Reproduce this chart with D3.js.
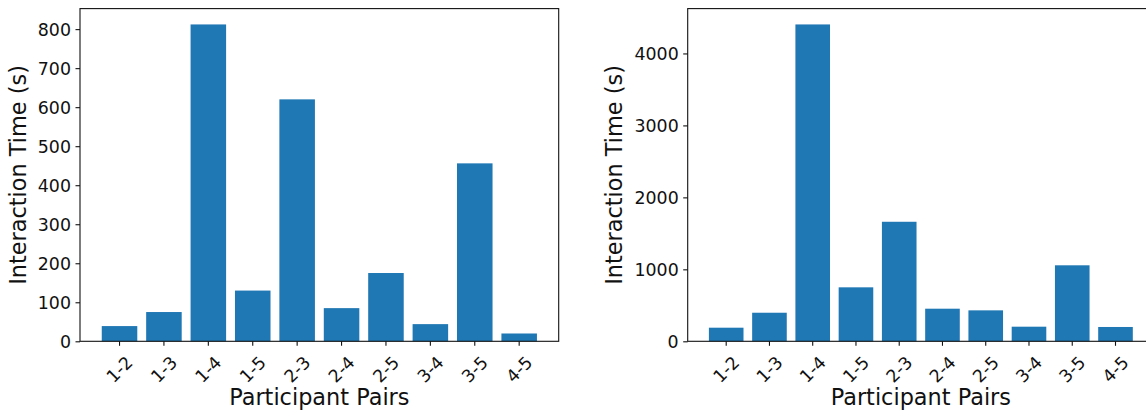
<!DOCTYPE html>
<html>
<head>
<meta charset="utf-8">
<script src="https://cdn.jsdelivr.net/npm/d3@7"></script>
<style>
  html, body { margin: 0; padding: 0; background: #fff; }
  svg { display: block; font-family: "DejaVu Sans", sans-serif; }
</style>
</head>
<body>
<svg id="chart" width="1146" height="414"></svg>
<script>
const categories = ["1-2", "1-3", "1-4", "1-5", "2-3", "2-4", "2-5", "3-4", "3-5", "4-5"];
const leftValues = [39, 75, 812, 130, 620, 85, 175, 44, 456, 20];
const rightValues = [189, 397, 4403, 750, 1661, 453, 430, 203, 1056, 199];
const leftTicks = [0, 100, 200, 300, 400, 500, 600, 700, 800];
const rightTicks = [0, 1000, 2000, 3000, 4000];
const xLabel = "Participant Pairs";
const yLabel = "Interaction Time (s)";

const svg = d3.select("#chart");
const barColor = "#1f77b4";
const ink = "#111";

function panel(values, ticks, box, yLabelX) {
  const g = svg.append("g");
  const x = d3.scaleBand().domain(categories)
    .range([box.x0, box.x1]).paddingInner(0.2).paddingOuter(0.49);
  const y = d3.scaleLinear().domain([0, d3.max(values) * 1.05])
    .range([box.y1, box.y0]);

  g.selectAll("rect.bar").data(values).join("rect")
    .attr("class", "bar")
    .attr("x", (d, i) => x(categories[i]))
    .attr("width", x.bandwidth())
    .attr("y", d => y(d))
    .attr("height", d => y(0) - y(d))
    .attr("fill", barColor);

  // y axis
  const ya = g.append("g").attr("transform", `translate(${box.x0},0)`)
    .call(d3.axisLeft(y).tickValues(ticks).tickSize(4.5).tickPadding(4.5).tickFormat(d3.format("d")));
  ya.select(".domain").remove();
  ya.selectAll("line").attr("stroke", ink).attr("stroke-width", 1.1);
  ya.selectAll("text").attr("fill", ink).attr("font-size", 17.4)
    .attr("font-family", "DejaVu Sans").attr("dy", "0.35em");

  // x axis
  const xa = g.append("g").attr("transform", `translate(0,${box.y1})`)
    .call(d3.axisBottom(x).tickSize(4.5).tickPadding(4.5));
  xa.select(".domain").remove();
  xa.selectAll("line").attr("stroke", ink).attr("stroke-width", 1.1);
  xa.selectAll("text")
    .attr("fill", ink).attr("font-size", 17.4).attr("font-family", "DejaVu Sans")
    .attr("x", null).attr("y", null).attr("dy", "0.35em")
    .attr("text-anchor", "middle")
    .attr("transform", "translate(0,28) rotate(-45)");

  // frame
  g.append("rect")
    .attr("x", box.x0).attr("y", box.y0)
    .attr("width", box.x1 - box.x0).attr("height", box.y1 - box.y0)
    .attr("fill", "none").attr("stroke", ink).attr("stroke-width", 1.1);

  // labels
  g.append("text")
    .attr("x", (box.x0 + box.x1) / 2).attr("y", 405)
    .attr("text-anchor", "middle").attr("font-size", 22.4).attr("fill", ink)
    .text(xLabel);
  g.append("text")
    .attr("transform", `translate(${yLabelX},${(box.y0 + box.y1) / 2}) rotate(-90)`)
    .attr("text-anchor", "middle").attr("font-size", 22.4).attr("fill", ink)
    .text(yLabel);
}

panel(leftValues, leftTicks, { x0: 80, x1: 558.7, y0: 8.6, y1: 341.3 }, 25.5);
panel(rightValues, rightTicks, { x0: 687.7, x1: 1154, y0: 8.6, y1: 341.3 }, 622);
</script>
</body>
</html>
